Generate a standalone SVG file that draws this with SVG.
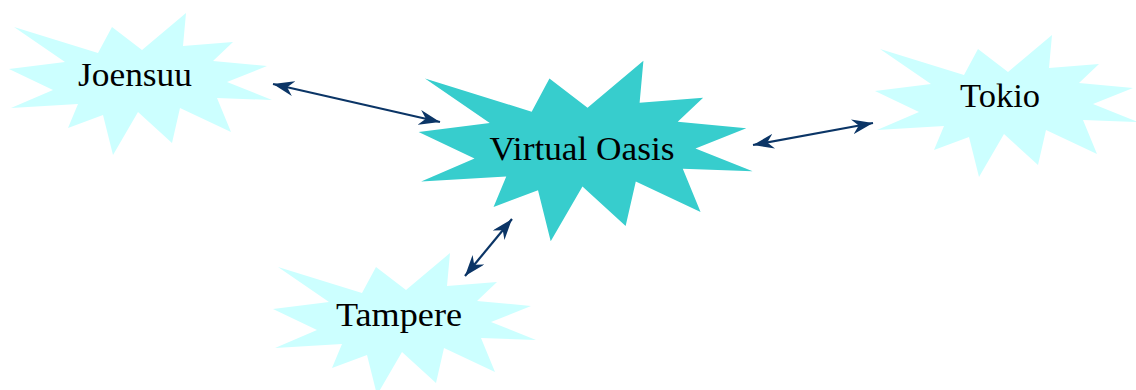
<svg xmlns="http://www.w3.org/2000/svg" width="1136" height="390" viewBox="0 0 1136 390">
  <style>
    .burst-light { fill: #ccffff; }
    .burst-main { fill: #37cdcd; }
    .label { font-family: "Liberation Serif", "Times New Roman", serif; font-size: 33px; fill: #000000; text-anchor: middle; }
    .link { stroke: #0b3566; stroke-width: 2.2; fill: none; }
  </style>
  <defs>
    <!-- 12-point explosion outline, centred on the origin -->
    <path id="burst" d="M46,-71 L43,-38 L93,-42 L73,-23 L127,-18 L87,-2 L132,16 L77,14 L91,48 L40,24 L32,59 L-2,28 L-27,71 L-37,31 L-72,44 L-62,20 L-129,24 L-87,6 L-131,-15 L-75,-22 L-126,-57 L-42,-31 L-28,-57 L2,-34 Z"/>
    <marker id="head" markerUnits="userSpaceOnUse" viewBox="0 0 21 15" markerWidth="21" markerHeight="15" refX="21" refY="7.5" orient="auto-start-reverse">
      <path d="M21,7.5 L0,0 L6.5,7.5 L0,15 Z" fill="#0b3566"/>
    </marker>
  </defs>

  <g id="node-joensuu">
    <use href="#burst" class="burst-light" transform="translate(140,84)"/>
    <text class="label" x="135" y="86" textLength="114" lengthAdjust="spacingAndGlyphs">Joensuu</text>
  </g>

  <g id="node-virtual-oasis">
    <use href="#burst" class="burst-main" transform="translate(585,151) scale(1.27)"/>
    <text class="label" x="582" y="160" textLength="185" lengthAdjust="spacingAndGlyphs">Virtual Oasis</text>
  </g>

  <g id="node-tokio">
    <use href="#burst" class="burst-light" transform="translate(1006,106)"/>
    <text class="label" x="1000" y="107" textLength="80" lengthAdjust="spacingAndGlyphs">Tokio</text>
  </g>

  <g id="node-tampere">
    <use href="#burst" class="burst-light" transform="translate(404,324)"/>
    <text class="label" x="399" y="326" textLength="126" lengthAdjust="spacingAndGlyphs">Tampere</text>
  </g>

  <g id="connectors">
    <line class="link" x1="273" y1="84" x2="440" y2="122" marker-start="url(#head)" marker-end="url(#head)"/>
    <line class="link" x1="753" y1="145" x2="873" y2="123" marker-start="url(#head)" marker-end="url(#head)"/>
    <line class="link" x1="512" y1="219" x2="465" y2="276" marker-start="url(#head)" marker-end="url(#head)"/>
  </g>
</svg>
